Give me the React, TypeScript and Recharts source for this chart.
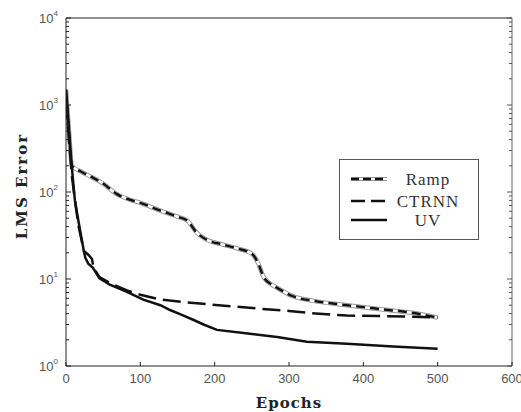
import React from "react";
import { LineChart, Line, XAxis, YAxis, Legend } from "recharts";

// values (log scale, epochs 0-500)
const rampEpochs = [0, 4, 8, 20, 35, 50, 68, 85, 100, 127, 150, 163, 176, 190, 210, 230, 250, 258, 266, 275, 284, 306, 333, 378, 423, 468, 500];
const rampError = [1500, 500, 200, 172, 148, 125, 95, 82, 75, 61, 52, 47, 34, 28, 25, 22.5, 19.5, 15.5, 10.5, 8.8, 7.9, 6.3, 5.6, 5.0, 4.5, 4.06, 3.6];

const ctrnnEpochs = [0, 4, 8, 12, 17, 24, 30, 35, 37, 45, 60, 82, 100, 127, 160, 194, 230, 261, 300, 330, 378, 420, 460, 500];
const ctrnnError = [1100, 400, 150, 80, 40, 21, 19, 17, 13.5, 10.5, 8.9, 7.4, 6.6, 5.8, 5.4, 5.1, 4.8, 4.55, 4.3, 4.05, 3.8, 3.75, 3.7, 3.6];

const uvEpochs = [0, 3, 6, 9, 12, 17, 24, 26, 30, 36, 45, 59, 82, 104, 127, 140, 155, 171, 185, 203, 239, 284, 324, 378, 440, 500];
const uvError = [1500, 700, 300, 150, 80, 45, 21, 17.5, 15, 13.5, 10.2, 8.6, 7.1, 5.8, 5.0, 4.4, 3.9, 3.4, 3.0, 2.6, 2.4, 2.15, 1.9, 1.8, 1.68, 1.58];

const xTicks = [0, 100, 200, 300, 400, 500, 600];
const yMajor = [1, 10, 100, 1000, 10000];
const yTicks = [
  1, 2, 3, 4, 5, 6, 7, 8, 9,
  10, 20, 30, 40, 50, 60, 70, 80, 90,
  100, 200, 300, 400, 500, 600, 700, 800, 900,
  1000, 2000, 3000, 4000, 5000, 6000, 7000, 8000, 9000,
  10000,
];

const toPoints = (epochs: number[], values: number[]) =>
  epochs.map((e, i) => ({ epoch: e, error: values[i] }));

const rampData = toPoints(rampEpochs, rampError);
const ctrnnData = toPoints(ctrnnEpochs, ctrnnError);
const uvData = toPoints(uvEpochs, uvError);

const AXIS = "#222";
const LABEL_FONT = "'Liberation Sans', Arial, sans-serif";
const TITLE_FONT = "'DejaVu Serif', serif";

function LeftTick({ x, y, payload }: any) {
  const v = payload.value;
  const isMajor = yMajor.includes(v);
  const exp = Math.round(Math.log10(v));
  return (
    <g>
      <line x1={x} x2={x + (isMajor ? 5 : 3)} y1={y} y2={y} stroke={AXIS} />
      {isMajor && (
        <text x={x - 8} y={y + 5} textAnchor="end" fontSize={13} fill="#555" style={{ fontFamily: LABEL_FONT }}>
          10
          <tspan dy={-7} fontSize={8}>{exp}</tspan>
        </text>
      )}
    </g>
  );
}

function RightTick({ x, y, payload }: any) {
  const isMajor = yMajor.includes(payload.value);
  return <line x1={x} x2={x - (isMajor ? 5 : 3)} y1={y} y2={y} stroke="#555" />;
}

function BottomTick({ x, y, payload }: any) {
  return (
    <g>
      <line x1={x} x2={x} y1={y} y2={y - 4} stroke={AXIS} />
      <text x={x} y={y + 17} textAnchor="middle" fontSize={13} fill="#555" style={{ fontFamily: LABEL_FONT }}>
        {payload.value}
      </text>
    </g>
  );
}

function TopTick({ x, y }: any) {
  return <line x1={x} x2={x} y1={y} y2={y + 4} stroke={AXIS} />;
}

function XTitle({ viewBox }: any) {
  const { x, y, width } = viewBox;
  return (
    <text
      x={x + width / 2}
      y={y + 42}
      textAnchor="middle"
      fontSize={15}
      fontWeight="bold"
      letterSpacing={1}
      fill="#222"
      style={{ fontFamily: TITLE_FONT }}
    >
      Epochs
    </text>
  );
}

function YTitle({ viewBox }: any) {
  const { x, y, height } = viewBox;
  const cx = x + 22;
  const cy = y + height / 2 - 6;
  return (
    <text
      x={cx}
      y={cy}
      transform={`rotate(-90 ${cx} ${cy})`}
      textAnchor="middle"
      dominantBaseline="central"
      fontSize={15}
      fontWeight="bold"
      letterSpacing={2}
      fill="#222"
      style={{ fontFamily: TITLE_FONT }}
    >
      LMS Error
    </text>
  );
}

function LegendBox() {
  const rows = [
    { name: "Ramp", y: 20 },
    { name: "CTRNN", y: 42 },
    { name: "UV", y: 61 },
  ];
  return (
    <svg width={140} height={81} style={{ display: "block" }}>
      <rect x={0.5} y={0.5} width={139} height={80} fill="#fff" stroke="#555" />
      {/* Ramp sample */}
      <line x1={12} x2={48} y1={rows[0].y} y2={rows[0].y} stroke="#9a9a9a" strokeWidth={4} />
      <line x1={12} x2={48} y1={rows[0].y} y2={rows[0].y} stroke="#fff" strokeWidth={2} />
      <line x1={12} x2={48} y1={rows[0].y} y2={rows[0].y} stroke="#111" strokeWidth={2.5} strokeDasharray="8 4" />
      {/* CTRNN sample */}
      <line x1={12} x2={48} y1={rows[1].y} y2={rows[1].y} stroke="#111" strokeWidth={2.5} strokeDasharray="14 6" />
      {/* UV sample */}
      <line x1={12} x2={48} y1={rows[2].y} y2={rows[2].y} stroke="#111" strokeWidth={2.5} />
      {rows.map((r) => (
        <text
          key={r.name}
          x={89}
          y={r.y + 6}
          textAnchor="middle"
          fontSize={17}
          fill="#333"
          letterSpacing={1}
          style={{ fontFamily: "'Liberation Serif', 'Times New Roman', serif" }}
        >
          {r.name}
        </text>
      ))}
    </svg>
  );
}

export default function App() {
  return (
    <div style={{ position: "absolute", left: 0, top: 0, width: 521, height: 412, background: "#fff" }}>
      <LineChart width={521} height={412} margin={{ top: 0, right: 0, bottom: 0, left: 0 }}>
        <XAxis
          dataKey="epoch"
          type="number"
          domain={[0, 600]}
          ticks={xTicks}
          interval={0}
          height={46}
          tickSize={0}
          tickMargin={0}
          tick={<BottomTick />}
          axisLine={{ stroke: AXIS }}
          allowDataOverflow
          label={<XTitle />}
        />
        <XAxis
          xAxisId="top"
          orientation="top"
          type="number"
          domain={[0, 600]}
          ticks={xTicks}
          interval={0}
          height={18}
          tickSize={0}
          tickMargin={0}
          tick={<TopTick />}
          axisLine={{ stroke: AXIS }}
          allowDataOverflow
        />
        <YAxis
          type="number"
          scale="log"
          domain={[1, 10000]}
          ticks={yTicks}
          interval={0}
          width={66}
          tickSize={0}
          tickMargin={0}
          tick={<LeftTick />}
          axisLine={{ stroke: AXIS }}
          allowDataOverflow
          label={<YTitle />}
        />
        <YAxis
          yAxisId="right"
          orientation="right"
          type="number"
          scale="log"
          domain={[1, 10000]}
          ticks={yTicks}
          interval={0}
          width={9}
          tickSize={0}
          tickMargin={0}
          tick={<RightTick />}
          axisLine={{ stroke: "#666" }}
          allowDataOverflow
        />
        <Legend
          layout="horizontal"
          verticalAlign="middle"
          align="center"
          content={() => <LegendBox />}
          wrapperStyle={{ position: "absolute", left: 339, top: 159, width: 140, height: 81 }}
        />
        {/* Ramp: grey outlined line with black dashes */}
        <Line data={rampData} dataKey="error" type="monotone" stroke="#9a9a9a" strokeWidth={4.5} dot={false} isAnimationActive={false} legendType="none" />
        <Line data={rampData} dataKey="error" type="monotone" stroke="#fff" strokeWidth={2.5} dot={false} isAnimationActive={false} legendType="none" />
        <Line data={rampData} dataKey="error" name="Ramp" type="monotone" stroke="#111" strokeWidth={2.5} strokeDasharray="9 5" dot={false} isAnimationActive={false} />
        <Line data={ctrnnData} dataKey="error" name="CTRNN" type="linear" stroke="#111" strokeWidth={2.5} strokeDasharray="18 7" dot={false} isAnimationActive={false} />
        <Line data={uvData} dataKey="error" name="UV" type="linear" stroke="#111" strokeWidth={2.5} dot={false} isAnimationActive={false} />
      </LineChart>
    </div>
  );
}
